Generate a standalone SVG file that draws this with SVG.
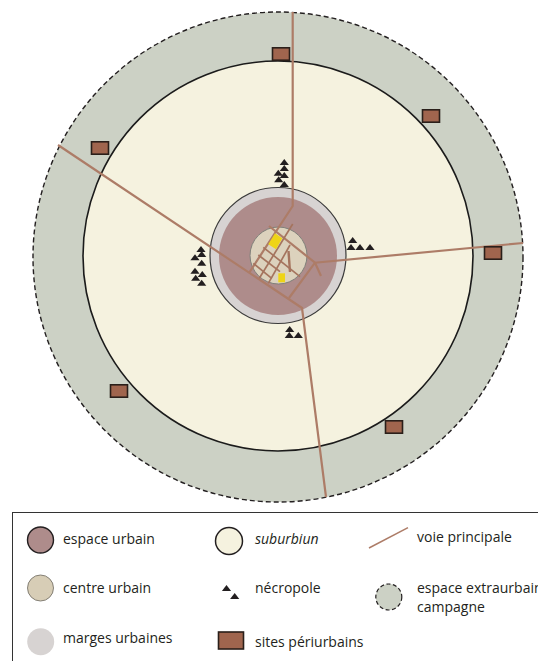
<svg xmlns="http://www.w3.org/2000/svg" xmlns:xlink="http://www.w3.org/1999/xlink" width="538" height="661" viewBox="0 0 538 661">
<style>
.road{fill:none;stroke:#ad7c67;stroke-width:2.200;stroke-linecap:butt;stroke-linejoin:miter}
.street{fill:none;stroke:#a5745e;stroke-width:1.700}
.site{fill:#a0654e;stroke:#2a1f1a;stroke-width:1.600}
.nec{fill:#231f20}
.lbl{font-family:"Open Sans","Noto Sans",sans-serif;font-size:14px;fill:#231f20}
.yellow{fill:#eed417}
</style>
<defs>
<polygon id="tri" class="nec" points="0,-3 4.600,3 -4.600,3"/>
<rect id="site" class="site" x="-8.500" y="-6.200" width="17" height="12.400"/>
</defs>
<rect width="538" height="661" fill="#ffffff"/>
<g id="espace-extraurbain"><circle cx="278" cy="257" r="245" fill="#ccd1c5" stroke="#231f20" stroke-width="1.400" stroke-dasharray="5 3"/></g>
<g id="suburbium"><circle cx="278" cy="256" r="195" fill="#f5f2df" stroke="#1b1b1b" stroke-width="1.600"/></g>
<g id="marges-urbaines"><circle cx="278" cy="255.500" r="68" fill="#d7d3d2" stroke="#3a3a3a" stroke-width="1.200"/></g>
<g id="espace-urbain"><circle cx="278" cy="256" r="59" fill="#ae8c8b"/></g>
<g id="centre-urbain"><circle cx="278.500" cy="255.500" r="28.500" fill="#dcd2bd" stroke="#80807a" stroke-width="1"/></g>
<g id="connectors">
<polyline class="road" points="292.700,12 292.700,206 275,233 249,273"/>
<polyline class="road" points="58,145 302,308 326,497"/>
<polyline class="road" points="523,243 315,262.700 289,298"/>
<polyline class="road" points="269,226 315,262.700 321,276"/>
<line class="street" x1="292.700" y1="224" x2="259.300" y2="278.300"/>
<line class="street" x1="290" y1="245" x2="268.300" y2="283.300"/>
<line class="street" x1="263.300" y1="247.300" x2="300" y2="276.700"/>
<line class="street" x1="258.300" y1="255" x2="280" y2="271.700"/>
<line class="street" x1="253.300" y1="263.300" x2="271.700" y2="278.300"/>
<line class="street" x1="288.500" y1="251" x2="290" y2="272" style="stroke-width:2.400"/>
</g>
<g id="monuments">
<polygon class="yellow" points="275,233.300 282.300,238.300 276,249.300 268.300,244.300"/>
<rect class="yellow" x="278.300" y="273.300" width="6.700" height="9"/>
</g>
<g id="necropoles">
<use href="#tri" x="284.300" y="162"/><use href="#tri" x="284.300" y="168"/><use href="#tri" x="278.300" y="172.700"/><use href="#tri" x="284.300" y="175"/><use href="#tri" x="278.700" y="179.300"/><use href="#tri" x="284.300" y="184"/>
<use href="#tri" x="352.700" y="240"/><use href="#tri" x="351" y="247"/><use href="#tri" x="360" y="247"/><use href="#tri" x="370" y="247"/>
<use href="#tri" x="289.700" y="329"/><use href="#tri" x="289.300" y="335"/><use href="#tri" x="298.300" y="335"/>
<use href="#tri" x="201" y="249"/><use href="#tri" x="201.700" y="254"/><use href="#tri" x="195" y="257.300"/><use href="#tri" x="201.700" y="262.700"/><use href="#tri" x="195" y="270.700"/><use href="#tri" x="202.300" y="274"/><use href="#tri" x="195.700" y="277.700"/><use href="#tri" x="201.700" y="282.700"/>
</g>
<g id="sites">
<use href="#site" x="281" y="54"/><use href="#site" x="431" y="116"/><use href="#site" x="493" y="253"/><use href="#site" x="394" y="427"/><use href="#site" x="119" y="391"/><use href="#site" x="100" y="148"/>
</g>
<g id="legende">
<rect x="12.500" y="512.500" width="540" height="160" fill="#fff" stroke="#333" stroke-width="1"/>
<circle cx="40.500" cy="540" r="13" fill="#ae8c8b" stroke="#231f20" stroke-width="1.400"/>
<circle cx="40.500" cy="588" r="13" fill="#d7cdb6" stroke="#6b675e" stroke-width="0.800"/>
<circle cx="40.700" cy="641.700" r="13.500" fill="#d7d3d2"/>
<circle cx="229" cy="541" r="13.500" fill="#f5f2df" stroke="#231f20" stroke-width="1.500"/>
<use href="#tri" x="226.500" y="588"/><use href="#tri" x="234.700" y="596"/>
<rect class="site" x="218.500" y="632" width="25" height="17"/>
<line class="road" x1="369" y1="548" x2="408" y2="527.700" style="stroke-width:1.500"/>
<circle cx="388.800" cy="597" r="13" fill="#ccd1c5" stroke="#231f20" stroke-width="1.200" stroke-dasharray="4 2.500"/>
<text class="lbl" x="63" y="544">espace urbain</text>
<text class="lbl" x="63" y="593">centre urbain</text>
<text class="lbl" x="63" y="643">marges urbaines</text>
<text class="lbl" x="255" y="544" font-style="italic">suburbiun</text>
<text class="lbl" x="255" y="593">nécropole</text>
<text class="lbl" x="255" y="647">sites périurbains</text>
<text class="lbl" x="417" y="542">voie principale</text>
<text class="lbl" x="417" y="593">espace extraurbain</text>
<text class="lbl" x="417" y="612">campagne</text>
</g>
</svg>
